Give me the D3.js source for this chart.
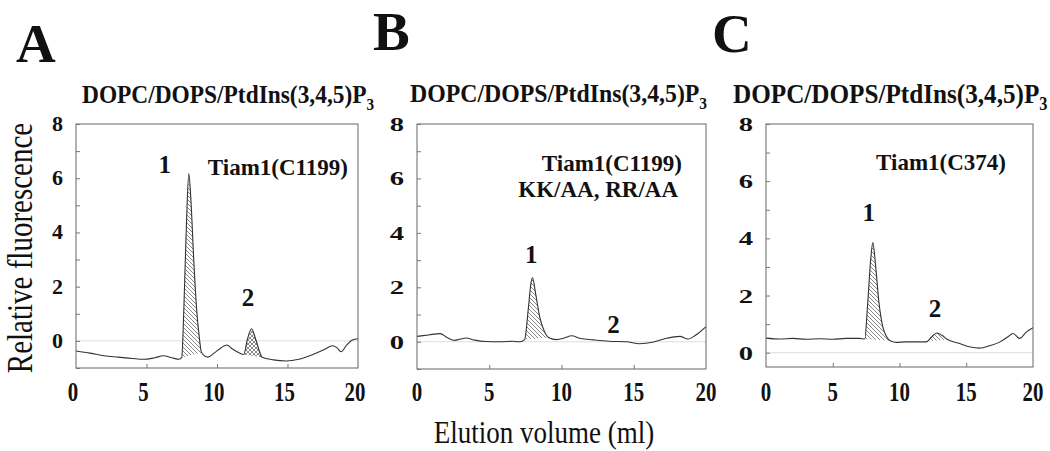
<!DOCTYPE html>
<html>
<head>
<meta charset="utf-8">
<script src="https://cdn.jsdelivr.net/npm/d3@7/dist/d3.min.js"></script>
<style>
  body { margin: 0; background: #fff; }
  svg text { font-family: 'Liberation Serif', 'Times New Roman', Times, serif; fill: #111; }
</style>
</head>
<body>
<svg id="fig" width="1050" height="451"></svg>
<script>
// tick values
const xTicks = [0, 5, 10, 15, 20];
const yTickLabels = [0, 2, 4, 6, 8];
const yMinor = [-1, 0, 1, 2, 3, 4, 5, 6, 7, 8];

const subtitle = "DOPC/DOPS/PtdIns(3,4,5)P";

// traces: [elution volume ml, relative fluorescence]
const traceA = [
  [0, -0.37], [1, -0.45], [2, -0.55], [3, -0.6], [4, -0.65], [4.8, -0.68], [5.6, -0.62],
  [6.2, -0.55], [6.8, -0.62], [7.3, -0.68], [7.5, -0.62], [7.65, 1.2], [7.85, 4.6],
  [8.0, 6.17], [8.15, 5.2], [8.35, 3.0], [8.55, 1.2], [8.75, 0.1], [8.9, -0.43],
  [9.35, -0.6], [9.8, -0.45], [10.3, -0.25], [10.7, -0.15], [11.1, -0.3], [11.6, -0.45],
  [11.9, -0.5], [12.15, 0.05], [12.45, 0.45], [12.75, 0.05], [13.2, -0.6], [14, -0.7],
  [14.9, -0.74], [15.8, -0.68], [16.8, -0.5], [17.6, -0.32], [18.2, -0.18], [18.5, -0.25],
  [18.8, -0.4], [19.2, -0.15], [19.6, 0.03], [20, 0.08]
];
const traceB = [
  [0, 0.2], [0.8, 0.25], [1.6, 0.3], [2.1, 0.15], [2.6, 0.05], [3.0, 0.1], [3.4, 0.14],
  [4.0, 0.06], [4.8, 0.01], [5.8, 0.0], [6.6, 0.02], [7.1, 0.0], [7.45, 0.08], [7.7, 1.2],
  [7.9, 2.2], [8.0, 2.35], [8.2, 1.8], [8.5, 0.9], [8.8, 0.4], [9.1, 0.16], [9.67, 0.08],
  [10.2, 0.14], [10.7, 0.22], [11.3, 0.12], [12.2, 0.07], [13.3, 0.02], [14.5, 0.0],
  [15.4, -0.07], [16.3, -0.02], [17.2, 0.12], [18.2, 0.2], [18.75, 0.1], [19.3, 0.25], [20, 0.56]
];
const traceC = [
  [0, 0.51], [1, 0.48], [2, 0.5], [3, 0.47], [4, 0.49], [5, 0.47], [6, 0.5], [7, 0.5],
  [7.4, 0.48], [7.6, 1.6], [7.85, 3.3], [8.0, 3.85], [8.2, 3.1], [8.45, 1.8], [8.75, 0.9],
  [9.05, 0.55], [9.3, 0.42], [9.8, 0.36], [10.4, 0.38], [11.0, 0.38], [12.0, 0.38],
  [12.4, 0.55], [12.8, 0.69], [13.2, 0.6], [13.6, 0.46], [14.5, 0.32], [15.3, 0.2],
  [16.0, 0.16], [16.8, 0.25], [17.5, 0.37], [18.1, 0.55], [18.5, 0.67], [19.0, 0.5],
  [19.5, 0.72], [20, 0.87]
];

// shaded peaks: [start, end] volume
const peaksA = [[7.5, 8.9], [11.9, 13.2]];
const peaksB = [[7.45, 9.1]];
const peaksC = [[7.4, 9.3], [12.0, 13.6]];

const svg = d3.select("#fig");
const defs = svg.append("defs");

function hatch(id, paths) {
  const p = defs.append("pattern").attr("id", id)
    .attr("patternUnits", "userSpaceOnUse").attr("width", 4).attr("height", 4);
  p.append("rect").attr("width", 4).attr("height", 4).attr("fill", "#fff");
  p.append("path").attr("d", paths).attr("stroke", "#555").attr("stroke-width", 0.7);
}
hatch("diag", "M0,0L4,4M-1,3L1,5M3,-1L5,1");
hatch("cross", "M0,0L4,4M-1,3L1,5M3,-1L5,1M0,4L4,0M-1,1L1,-1M3,5L5,3");

const panels = [
  { trace: traceA, peaks: peaksA, fills: ["diag", "cross"], x0: 76, x1: 358, yTop: 124, yBot: 368, yMin: -1,
    letter: "A", lx: 16, ly: 62, sx: 82, sy: 103, sSize: 23.4, ySx: 1, xOff: -3,
    notes: [{ t: "Tiam1(C1199)", dx: -10, y: 175 }],
    nums: [{ t: "1", x: 6.3, y: 6.2 }, { t: "2", x: 12.2, y: 1.3 }] },
  { trace: traceB, peaks: peaksB, fills: ["diag"], x0: 417, x1: 706, yTop: 124, yBot: 369, yMin: -1,
    letter: "B", lx: 373, ly: 50, sx: 410, sy: 102, sSize: 23.8, ySx: 1.3, xOff: 0,
    notes: [{ t: "Tiam1(C1199)", dx: -24, y: 171 }, { t: "KK/AA, RR/AA", dx: -28, y: 197 }],
    nums: [{ t: "1", x: 7.9, y: 2.9 }, { t: "2", x: 13.6, y: 0.33 }] },
  { trace: traceC, peaks: peaksC, fills: ["diag", "diag"], x0: 766, x1: 1033, yTop: 124, yBot: 367, yMin: -0.5,
    letter: "C", lx: 712, ly: 52, sx: 733, sy: 103, sSize: 25.2, ySx: 1.3, xOff: 0,
    notes: [{ t: "Tiam1(C374)", dx: -27, y: 170 }],
    nums: [{ t: "1", x: 7.7, y: 4.6 }, { t: "2", x: 12.66, y: 1.26 }] }
];

panels.forEach(p => {
  const x = d3.scaleLinear().domain([0, 20]).range([p.x0, p.x1]);
  const y = d3.scaleLinear().domain([p.yMin, 8]).range([p.yBot, p.yTop]);
  const g = svg.append("g");

  // zero reference line
  g.append("line").attr("x1", p.x0).attr("x2", p.x1)
    .attr("y1", y(0)).attr("y2", y(0)).attr("stroke", "#d4d4d4").attr("stroke-width", 0.8);

  // shaded peaks between trace and straight baseline
  p.peaks.forEach((pk, i) => {
    const pts = p.trace.filter(d => d[0] >= pk[0] && d[0] <= pk[1]);
    g.append("path")
      .attr("d", d3.line().x(d => x(d[0])).y(d => y(d[1]))(pts) + "Z")
      .attr("fill", `url(#${p.fills[i]})`);
  });

  g.append("path")
    .attr("d", d3.line().curve(d3.curveMonotoneX).x(d => x(d[0])).y(d => y(d[1]))(p.trace))
    .attr("fill", "none").attr("stroke", "#333").attr("stroke-width", 1.1);

  // frame
  g.append("rect").attr("x", p.x0).attr("y", p.yTop)
    .attr("width", p.x1 - p.x0).attr("height", p.yBot - p.yTop)
    .attr("fill", "none").attr("stroke", "#666").attr("stroke-width", 1);

  // axes with inward ticks
  const yAx = g.append("g").attr("transform", `translate(${p.x0},0)`)
    .call(d3.axisRight(y).tickValues(yMinor.filter(v => v >= p.yMin)).tickSize(4).tickFormat(""));
  yAx.select(".domain").remove();
  yAx.selectAll("line").attr("stroke", "#777");
  const xAx = g.append("g").attr("transform", `translate(0,${p.yBot})`)
    .call(d3.axisTop(x).tickValues(xTicks.slice(1, -1)).tickSize(4).tickFormat(""));
  xAx.select(".domain").remove();
  xAx.selectAll("line").attr("stroke", "#777");

  g.selectAll(".ylab").data(yTickLabels).join("text")
    .attr("transform", d => `translate(${p.x0 - 13},${y(d) + 7}) scale(${p.ySx},${p.ySx > 1 ? 0.9 : 1})`)
    .attr("text-anchor", "end").attr("font-size", 22).attr("font-weight", "bold").text(d => d);
  g.selectAll(".xlab").data(xTicks).join("text")
    .attr("transform", d => `translate(${x(d) + p.xOff},401) scale(0.95,1.25)`)
    .attr("text-anchor", "middle").attr("font-size", 22).attr("font-weight", "bold").text(d => d);

  g.selectAll(".num").data(p.nums).join("text")
    .attr("x", d => x(d.x)).attr("y", d => y(d.y))
    .attr("text-anchor", "middle").attr("font-size", 25).attr("font-weight", "bold").text(d => d.t);

  g.selectAll(".note").data(p.notes).join("text")
    .attr("x", d => p.x1 + d.dx).attr("y", d => d.y)
    .attr("text-anchor", "end").attr("font-size", 23).attr("font-weight", "bold").text(d => d.t);

  svg.append("text").attr("x", p.lx).attr("y", p.ly)
    .attr("font-size", 55).attr("font-weight", "bold").text(p.letter);

  const st = svg.append("text").attr("transform", `translate(${p.sx},${p.sy}) scale(1,1.1)`)
    .attr("font-size", p.sSize).attr("font-weight", "bold");
  st.append("tspan").text(subtitle);
  st.append("tspan").attr("dy", 6).attr("font-size", p.sSize * 0.65).text("3");
});

svg.append("text").attr("transform", "translate(32,248) rotate(-90) scale(1,1.2)")
  .attr("text-anchor", "middle").attr("font-size", 29).text("Relative fluorescence");
svg.append("text").attr("transform", "translate(544,443) scale(1,1.2)")
  .attr("text-anchor", "middle").attr("font-size", 27).text("Elution volume (ml)");
</script>
</body>
</html>
